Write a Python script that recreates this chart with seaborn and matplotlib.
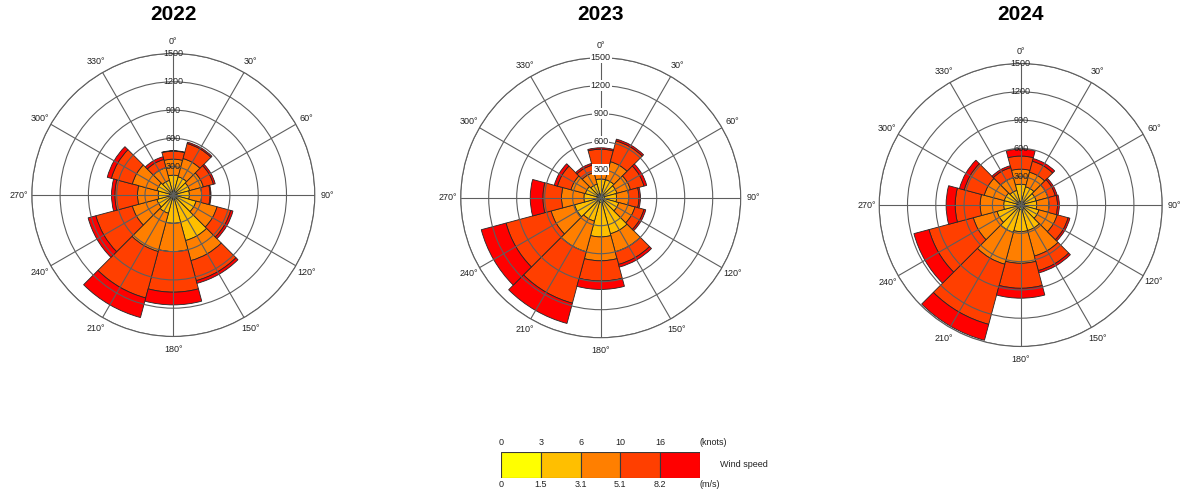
import numpy as np
import matplotlib
matplotlib.use("Agg")
import matplotlib.pyplot as plt
import seaborn as sns

# Wind direction sectors (degrees, clockwise from north)
directions = [0, 30, 60, 90, 120, 150, 180, 210, 240, 270, 300, 330]
years = ["2022", "2023", "2024"]

# Speed class limits shown in the key
speed_knots = ["0", "3", "6", "10", "16"]
speed_ms = ["0", "1.5", "3.1", "5.1", "8.2"]
radial_ticks = [300, 600, 900, 1200, 1500]

# Hourly counts per direction; one row per speed class (slowest first)
freq_2022 = [
    [40, 40, 40, 40, 40, 50, 50, 40, 40, 40, 40, 40],
    [170, 160, 140, 130, 210, 450, 250, 160, 140, 120, 140, 120],
    [170, 200, 150, 130, 230, 220, 300, 420, 270, 220, 270, 140],
    [85, 165, 110, 90, 150, 220, 430, 510, 400, 240, 230, 90],
    [5, 15, 20, 10, 25, 30, 135, 215, 85, 35, 45, 30],
]
freq_2023 = [
    [40, 40, 40, 40, 40, 50, 50, 40, 40, 40, 40, 40],
    [160, 160, 140, 130, 160, 350, 370, 220, 250, 140, 130, 110],
    [130, 200, 150, 130, 180, 200, 256, 340, 260, 240, 160, 130],
    [190, 230, 150, 110, 100, 140, 217, 570, 500, 200, 150, 80],
    [15, 20, 30, 16, 20, 30, 90, 225, 275, 135, 35, 20],
]
freq_2024 = [
    [40, 40, 40, 40, 40, 50, 50, 40, 40, 40, 40, 40],
    [180, 160, 130, 130, 160, 230, 232, 260, 220, 140, 140, 120],
    [160, 160, 130, 130, 200, 280, 336, 350, 260, 250, 220, 140],
    [139, 120, 80, 90, 120, 160, 265, 660, 486, 265, 220, 110],
    [74, 30, 20, 20, 20, 25, 105, 175, 166, 96, 52, 21],
]
year_freqs = [freq_2022, freq_2023, freq_2024]

sns.set_theme(style="white")
plt.rcParams["font.family"] = ["Liberation Sans", "DejaVu Sans"]

palette = sns.blend_palette(["#FFFF00", "#FF0000"], n_colors=5)

W, H = 1185, 494
fig = plt.figure(figsize=(W / 100, H / 100), dpi=100)
fig.patch.set_facecolor("white")


def px_box(cx, cy, r):
    return [(cx - r) / W, (H - cy - r) / H, 2 * r / W, 2 * r / H]


# centre x, centre y, radius (pixels) and whether radial labels get a white box
panels = [(173.3, 195.0, 141.5, False), (600.7, 197.7, 140.0, True), (1020.7, 205.0, 141.5, False)]

theta = np.radians(directions)
width = np.radians(30)
grid_col = "#5e5e5e"
text_col = "#222222"

for year, freq, (cx, cy, r, boxed) in zip(years, year_freqs, panels):
    ax = fig.add_axes(px_box(cx, cy, r), projection="polar")
    ax.set_facecolor("white")
    ax.set_theta_zero_location("N")
    ax.set_theta_direction(-1)

    bottom = np.zeros(len(directions))
    for k, counts in enumerate(freq):
        counts = np.asarray(counts, dtype=float)
        ax.bar(theta, counts, width=width, bottom=bottom, align="center",
               color=palette[k], edgecolor="#262626", linewidth=0.6, zorder=1)
        bottom += counts

    ax.set_ylim(0, 1500)
    ax.set_yticks(radial_ticks)
    ax.set_yticklabels([])
    ax.set_xticks(theta)
    ax.set_xticklabels([])
    ax.tick_params(length=0)
    ax.grid(True, color=grid_col, linewidth=0.8)
    ax.spines["polar"].set_color(grid_col)
    ax.spines["polar"].set_linewidth(0.8)
    ax.set_axisbelow(False)

    # direction labels just outside the outer ring
    r_lab = 1500 * (1 + 12.5 / r)
    for t, d in zip(theta, directions):
        ax.text(t, r_lab, f"{d}°", ha="center", va="center", fontsize=6.5,
                color=text_col, clip_on=False)

    for rt in radial_ticks:
        kw = {}
        if boxed:
            kw["bbox"] = dict(facecolor="white", edgecolor="none", pad=0.6)
        ax.text(0, rt, str(rt), ha="center", va="center", fontsize=6.5,
                color=text_col, zorder=5, **kw)

    fig.text(cx / W, 1 - 15 / H, year, ha="center", va="center",
             fontsize=15, fontweight="bold", color="black")

# Wind speed key
lax = fig.add_axes([501 / W, (H - 477.7) / H, 199 / W, 26 / H])
lax.bar(np.arange(5), np.ones(5), width=1, align="edge", color=palette,
        edgecolor="#3a3a3a", linewidth=0.8)
lax.set_xlim(0, 5)
lax.set_ylim(0, 1)
lax.axis("off")
for i, (kn, ms) in enumerate(zip(speed_knots, speed_ms)):
    lax.text(i, 1.35, kn, ha="center", va="center", fontsize=6.5, color=text_col, clip_on=False)
    lax.text(i, -0.28, ms, ha="center", va="center", fontsize=6.5, color=text_col, clip_on=False)
lax.text(5.0, 1.35, "(knots)", ha="left", va="center", fontsize=6.5, color=text_col, clip_on=False)
lax.text(5.0, -0.28, "(m/s)", ha="left", va="center", fontsize=6.5, color=text_col, clip_on=False)
lax.text(5.5, 0.5, "Wind speed", ha="left", va="center", fontsize=6.5, color=text_col, clip_on=False)

fig.savefig("out.png", dpi=100, facecolor="white")
